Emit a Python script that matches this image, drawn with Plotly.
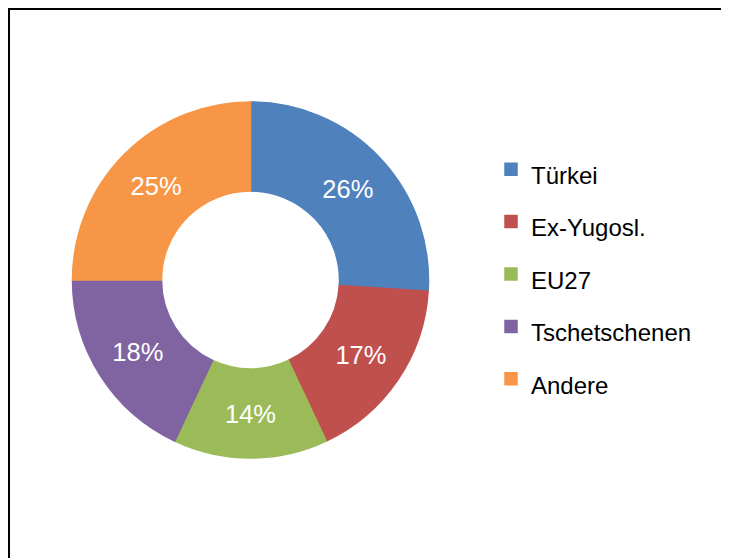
import plotly.graph_objects as go

labels = ["Türkei", "Ex-Yugosl.", "EU27", "Tschetschenen", "Andere"]
values = [26, 17, 14, 18, 25]
colors = ["#4F81BD", "#C0504D", "#9BBB59", "#8064A2", "#F79646"]

W, H = 729, 558
# the page adds an 8px body margin, so positions are in figure coordinates
cx, cy, R = 242.5, 272, 178

legend_labels = ['<span style="font-size:24px">%s</span>' % l for l in labels]

fig = go.Figure()
fig.add_trace(go.Pie(
    labels=legend_labels,
    values=values,
    hole=0.5,
    sort=False,
    direction="clockwise",
    rotation=0,
    marker=dict(colors=colors, line=dict(color=colors, width=1.5)),
    textinfo="percent",
    texttemplate="%{percent:.0%}",
    textposition="inside",
    insidetextorientation="horizontal",
    textfont=dict(color="white", size=25.5, family="Liberation Sans, Arial, sans-serif"),
    domain=dict(x=[(cx - R) / W, (cx + R) / W], y=[(H - cy - R) / H, (H - cy + R) / H]),
    hoverinfo="label+percent",
))

fig.update_layout(
    width=W, height=H,
    margin=dict(l=0, r=0, t=0, b=0),
    paper_bgcolor="white",
    plot_bgcolor="white",
    font=dict(family="Liberation Sans, Arial, sans-serif", color="black"),
    uniformtext=dict(minsize=25.5, mode="show"),
    legend=dict(
        x=483 / W, xanchor="left",
        y=(H - 266) / H, yanchor="middle",
        font=dict(size=38, family="Liberation Sans, Arial, sans-serif", color="black"),
        bgcolor="rgba(0,0,0,0)",
        borderwidth=0,
    ),
    shapes=[dict(
        type="rect", xref="paper", yref="paper",
        x0=1 / W, x1=1.2, y0=-0.2, y1=(H - 1) / H,
        line=dict(color="black", width=2),
        fillcolor="rgba(0,0,0,0)",
        layer="above",
    )],
)

fig.write_html("out.html")
